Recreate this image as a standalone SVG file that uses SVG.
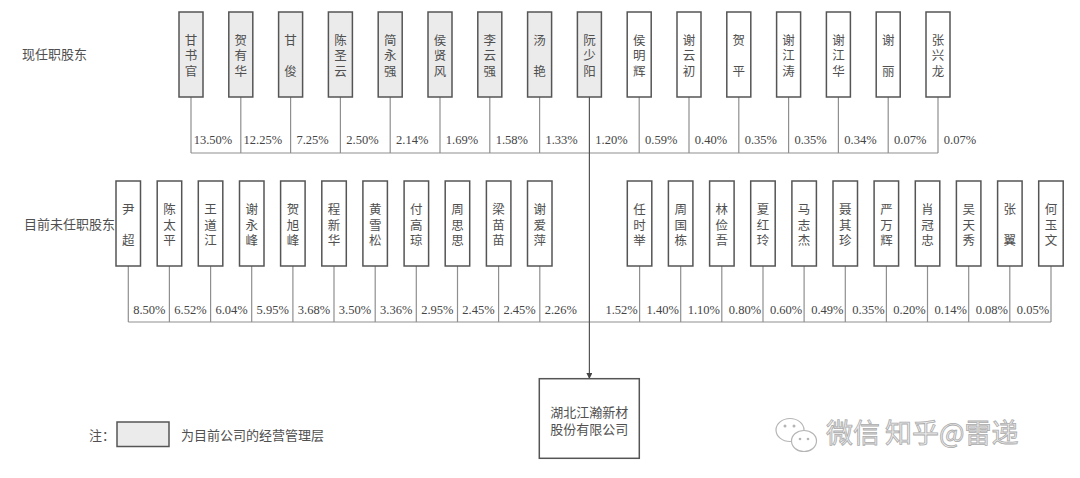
<svg xmlns="http://www.w3.org/2000/svg" width="1080" height="478" viewBox="0 0 1080 478">
<style>
.bx{stroke:#555;stroke-width:1.5;fill:#fff}
.g{fill:#ebebeb}
.nm{font-family:"Liberation Serif","Noto Sans CJK SC","Noto Sans CJK JP",sans-serif;font-size:12.5px;fill:#505050;text-anchor:middle}
.pc{font-family:"Liberation Serif","Times New Roman",serif;font-size:12.5px;fill:#444;text-anchor:middle}
.lb{font-family:"Noto Sans CJK SC","Noto Sans CJK JP",sans-serif;font-size:13px;fill:#505050}
.ln{stroke:#8f8f8f;stroke-width:1.2;fill:none}
.wm{font-family:"Noto Sans CJK SC","Noto Sans CJK JP",sans-serif;font-size:27px;fill:#ececec;stroke:#ababab;stroke-width:0.8}
</style>
<defs>
<marker id="arr" markerWidth="6" markerHeight="6" refX="5" refY="3" orient="auto" markerUnits="userSpaceOnUse"><path d="M0,0 L6,3 L0,6 z" fill="#444"/></marker>
</defs>
<rect width="1080" height="478" fill="#fff"/>
<text class="lb" x="22" y="59">现任职股东</text>
<text class="lb" x="24" y="229">目前未任职股东</text>

<g id="connectors">
<path class="ln" d="M191,97V153M240.8,97V153M290.6,97V153M340.4,97V153M390.2,97V153M440,97V153M489.8,97V153M539.6,97V153M639.2,97V153M689,97V153M738.8,97V153M788.6,97V153M838.4,97V153M888.2,97V153M938,97V153M191,153H938"/>
<path class="ln" d="M128.3,266V322M169.4,266V322M210.6,266V322M251.7,266V322M292.9,266V322M334,266V322M375.2,266V322M416.3,266V322M457.5,266V322M498.6,266V322M539.8,266V322M639.6,266V322M680.7,266V322M721.8,266V322M763,266V322M804.1,266V322M845.3,266V322M886.4,266V322M927.5,266V322M968.7,266V322M1009.8,266V322M1051,266V322M128.3,322H1051"/>
<path d="M589.4,97V378" stroke="#555" stroke-width="1.2" fill="none" marker-end="url(#arr)"/>
</g>

<g id="pct-top">
<text class="pc" x="213" y="144">13.50%</text>
<text class="pc" x="262.8" y="144">12.25%</text>
<text class="pc" x="312.6" y="144">7.25%</text>
<text class="pc" x="362.4" y="144">2.50%</text>
<text class="pc" x="412.2" y="144">2.14%</text>
<text class="pc" x="462" y="144">1.69%</text>
<text class="pc" x="511.8" y="144">1.58%</text>
<text class="pc" x="561.6" y="144">1.33%</text>
<text class="pc" x="611.4" y="144">1.20%</text>
<text class="pc" x="661.2" y="144">0.59%</text>
<text class="pc" x="711" y="144">0.40%</text>
<text class="pc" x="760.8" y="144">0.35%</text>
<text class="pc" x="810.6" y="144">0.35%</text>
<text class="pc" x="860.4" y="144">0.34%</text>
<text class="pc" x="910.2" y="144">0.07%</text>
<text class="pc" x="960" y="144">0.07%</text>
</g>
<g id="pct-bottom">
<text class="pc" x="149.3" y="314">8.50%</text>
<text class="pc" x="190.4" y="314">6.52%</text>
<text class="pc" x="231.6" y="314">6.04%</text>
<text class="pc" x="272.7" y="314">5.95%</text>
<text class="pc" x="313.9" y="314">3.68%</text>
<text class="pc" x="355" y="314">3.50%</text>
<text class="pc" x="396.2" y="314">3.36%</text>
<text class="pc" x="437.3" y="314">2.95%</text>
<text class="pc" x="478.5" y="314">2.45%</text>
<text class="pc" x="519.6" y="314">2.45%</text>
<text class="pc" x="560.8" y="314">2.26%</text>
<text class="pc" x="621.6" y="314">1.52%</text>
<text class="pc" x="662.7" y="314">1.40%</text>
<text class="pc" x="703.8" y="314">1.10%</text>
<text class="pc" x="745" y="314">0.80%</text>
<text class="pc" x="786.1" y="314">0.60%</text>
<text class="pc" x="827.3" y="314">0.49%</text>
<text class="pc" x="868.4" y="314">0.35%</text>
<text class="pc" x="909.5" y="314">0.20%</text>
<text class="pc" x="950.7" y="314">0.14%</text>
<text class="pc" x="991.8" y="314">0.08%</text>
<text class="pc" x="1033" y="314">0.05%</text>
</g>

<g id="n-t1"><rect class="bx g" x="179" y="12" width="24" height="85"/><text class="nm"><tspan x="191" y="44.5">甘</tspan><tspan x="191" y="59.8">书</tspan><tspan x="191" y="75.5">官</tspan></text></g>
<g id="n-t2"><rect class="bx g" x="228.8" y="12" width="24" height="85"/><text class="nm"><tspan x="240.8" y="44.5">贺</tspan><tspan x="240.8" y="59.8">有</tspan><tspan x="240.8" y="75.5">华</tspan></text></g>
<g id="n-t3"><rect class="bx g" x="278.6" y="12" width="24" height="85"/><text class="nm"><tspan x="290.6" y="44.5">甘</tspan><tspan x="290.6" y="75.5">俊</tspan></text></g>
<g id="n-t4"><rect class="bx g" x="328.4" y="12" width="24" height="85"/><text class="nm"><tspan x="340.4" y="44.5">陈</tspan><tspan x="340.4" y="59.8">圣</tspan><tspan x="340.4" y="75.5">云</tspan></text></g>
<g id="n-t5"><rect class="bx g" x="378.2" y="12" width="24" height="85"/><text class="nm"><tspan x="390.2" y="44.5">简</tspan><tspan x="390.2" y="59.8">永</tspan><tspan x="390.2" y="75.5">强</tspan></text></g>
<g id="n-t6"><rect class="bx g" x="428" y="12" width="24" height="85"/><text class="nm"><tspan x="440" y="44.5">侯</tspan><tspan x="440" y="59.8">贤</tspan><tspan x="440" y="75.5">风</tspan></text></g>
<g id="n-t7"><rect class="bx g" x="477.8" y="12" width="24" height="85"/><text class="nm"><tspan x="489.8" y="44.5">李</tspan><tspan x="489.8" y="59.8">云</tspan><tspan x="489.8" y="75.5">强</tspan></text></g>
<g id="n-t8"><rect class="bx g" x="527.6" y="12" width="24" height="85"/><text class="nm"><tspan x="539.6" y="44.5">汤</tspan><tspan x="539.6" y="75.5">艳</tspan></text></g>
<g id="n-t9"><rect class="bx g" x="577.4" y="12" width="24" height="85"/><text class="nm"><tspan x="589.4" y="44.5">阮</tspan><tspan x="589.4" y="59.8">少</tspan><tspan x="589.4" y="75.5">阳</tspan></text></g>
<g id="n-t10"><rect class="bx" x="627.2" y="12" width="24" height="85"/><text class="nm"><tspan x="639.2" y="44.5">侯</tspan><tspan x="639.2" y="59.8">明</tspan><tspan x="639.2" y="75.5">辉</tspan></text></g>
<g id="n-t11"><rect class="bx" x="677" y="12" width="24" height="85"/><text class="nm"><tspan x="689" y="44.5">谢</tspan><tspan x="689" y="59.8">云</tspan><tspan x="689" y="75.5">初</tspan></text></g>
<g id="n-t12"><rect class="bx" x="726.8" y="12" width="24" height="85"/><text class="nm"><tspan x="738.8" y="44.5">贺</tspan><tspan x="738.8" y="75.5">平</tspan></text></g>
<g id="n-t13"><rect class="bx" x="776.6" y="12" width="24" height="85"/><text class="nm"><tspan x="788.6" y="44.5">谢</tspan><tspan x="788.6" y="59.8">江</tspan><tspan x="788.6" y="75.5">涛</tspan></text></g>
<g id="n-t14"><rect class="bx" x="826.4" y="12" width="24" height="85"/><text class="nm"><tspan x="838.4" y="44.5">谢</tspan><tspan x="838.4" y="59.8">江</tspan><tspan x="838.4" y="75.5">华</tspan></text></g>
<g id="n-t15"><rect class="bx" x="876.2" y="12" width="24" height="85"/><text class="nm"><tspan x="888.2" y="44.5">谢</tspan><tspan x="888.2" y="75.5">丽</tspan></text></g>
<g id="n-t16"><rect class="bx" x="926" y="12" width="24" height="85"/><text class="nm"><tspan x="938" y="44.5">张</tspan><tspan x="938" y="59.8">兴</tspan><tspan x="938" y="75.5">龙</tspan></text></g>

<g id="n-b1"><rect class="bx" x="116" y="181" width="24.5" height="85"/><text class="nm"><tspan x="128.3" y="214.3">尹</tspan><tspan x="128.3" y="244.8">超</tspan></text></g>
<g id="n-b2"><rect class="bx" x="157.2" y="181" width="24.5" height="85"/><text class="nm"><tspan x="169.4" y="214.3">陈</tspan><tspan x="169.4" y="229.6">太</tspan><tspan x="169.4" y="244.8">平</tspan></text></g>
<g id="n-b3"><rect class="bx" x="198.3" y="181" width="24.5" height="85"/><text class="nm"><tspan x="210.6" y="214.3">王</tspan><tspan x="210.6" y="229.6">道</tspan><tspan x="210.6" y="244.8">江</tspan></text></g>
<g id="n-b4"><rect class="bx" x="239.5" y="181" width="24.5" height="85"/><text class="nm"><tspan x="251.7" y="214.3">谢</tspan><tspan x="251.7" y="229.6">永</tspan><tspan x="251.7" y="244.8">峰</tspan></text></g>
<g id="n-b5"><rect class="bx" x="280.6" y="181" width="24.5" height="85"/><text class="nm"><tspan x="292.9" y="214.3">贺</tspan><tspan x="292.9" y="229.6">旭</tspan><tspan x="292.9" y="244.8">峰</tspan></text></g>
<g id="n-b6"><rect class="bx" x="321.8" y="181" width="24.5" height="85"/><text class="nm"><tspan x="334" y="214.3">程</tspan><tspan x="334" y="229.6">新</tspan><tspan x="334" y="244.8">华</tspan></text></g>
<g id="n-b7"><rect class="bx" x="362.9" y="181" width="24.5" height="85"/><text class="nm"><tspan x="375.2" y="214.3">黄</tspan><tspan x="375.2" y="229.6">雪</tspan><tspan x="375.2" y="244.8">松</tspan></text></g>
<g id="n-b8"><rect class="bx" x="404.1" y="181" width="24.5" height="85"/><text class="nm"><tspan x="416.3" y="214.3">付</tspan><tspan x="416.3" y="229.6">高</tspan><tspan x="416.3" y="244.8">琼</tspan></text></g>
<g id="n-b9"><rect class="bx" x="445.2" y="181" width="24.5" height="85"/><text class="nm"><tspan x="457.5" y="214.3">周</tspan><tspan x="457.5" y="229.6">思</tspan><tspan x="457.5" y="244.8">思</tspan></text></g>
<g id="n-b10"><rect class="bx" x="486.4" y="181" width="24.5" height="85"/><text class="nm"><tspan x="498.6" y="214.3">梁</tspan><tspan x="498.6" y="229.6">苗</tspan><tspan x="498.6" y="244.8">苗</tspan></text></g>
<g id="n-b11"><rect class="bx" x="527.5" y="181" width="24.5" height="85"/><text class="nm"><tspan x="539.8" y="214.3">谢</tspan><tspan x="539.8" y="229.6">爱</tspan><tspan x="539.8" y="244.8">萍</tspan></text></g>

<g id="n-b12"><rect class="bx" x="627.3" y="181" width="24.5" height="85"/><text class="nm"><tspan x="639.6" y="214.3">任</tspan><tspan x="639.6" y="229.6">时</tspan><tspan x="639.6" y="244.8">举</tspan></text></g>
<g id="n-b13"><rect class="bx" x="668.4" y="181" width="24.5" height="85"/><text class="nm"><tspan x="680.7" y="214.3">周</tspan><tspan x="680.7" y="229.6">国</tspan><tspan x="680.7" y="244.8">栋</tspan></text></g>
<g id="n-b14"><rect class="bx" x="709.6" y="181" width="24.5" height="85"/><text class="nm"><tspan x="721.8" y="214.3">林</tspan><tspan x="721.8" y="229.6">俭</tspan><tspan x="721.8" y="244.8">吾</tspan></text></g>
<g id="n-b15"><rect class="bx" x="750.7" y="181" width="24.5" height="85"/><text class="nm"><tspan x="763" y="214.3">夏</tspan><tspan x="763" y="229.6">红</tspan><tspan x="763" y="244.8">玲</tspan></text></g>
<g id="n-b16"><rect class="bx" x="791.9" y="181" width="24.5" height="85"/><text class="nm"><tspan x="804.1" y="214.3">马</tspan><tspan x="804.1" y="229.6">志</tspan><tspan x="804.1" y="244.8">杰</tspan></text></g>
<g id="n-b17"><rect class="bx" x="833" y="181" width="24.5" height="85"/><text class="nm"><tspan x="845.3" y="214.3">聂</tspan><tspan x="845.3" y="229.6">其</tspan><tspan x="845.3" y="244.8">珍</tspan></text></g>
<g id="n-b18"><rect class="bx" x="874.1" y="181" width="24.5" height="85"/><text class="nm"><tspan x="886.4" y="214.3">严</tspan><tspan x="886.4" y="229.6">万</tspan><tspan x="886.4" y="244.8">辉</tspan></text></g>
<g id="n-b19"><rect class="bx" x="915.3" y="181" width="24.5" height="85"/><text class="nm"><tspan x="927.5" y="214.3">肖</tspan><tspan x="927.5" y="229.6">冠</tspan><tspan x="927.5" y="244.8">忠</tspan></text></g>
<g id="n-b20"><rect class="bx" x="956.4" y="181" width="24.5" height="85"/><text class="nm"><tspan x="968.7" y="214.3">吴</tspan><tspan x="968.7" y="229.6">天</tspan><tspan x="968.7" y="244.8">秀</tspan></text></g>
<g id="n-b21"><rect class="bx" x="997.6" y="181" width="24.5" height="85"/><text class="nm"><tspan x="1009.8" y="214.3">张</tspan><tspan x="1009.8" y="244.8">翼</tspan></text></g>
<g id="n-b22"><rect class="bx" x="1038.7" y="181" width="24.5" height="85"/><text class="nm"><tspan x="1051" y="214.3">何</tspan><tspan x="1051" y="229.6">玉</tspan><tspan x="1051" y="244.8">文</tspan></text></g>

<g id="n-company"><rect class="bx" x="539.3" y="378.7" width="100" height="79.6"/><text class="lb" text-anchor="middle"><tspan x="589.3" y="417">湖北江瀚新材</tspan><tspan x="589.3" y="434">股份有限公司</tspan></text></g>

<g id="legend">
<text class="lb" x="89" y="440">注：</text>
<rect class="bx g" x="117" y="422" width="52" height="24.5"/>
<text class="lb" x="181" y="440">为目前公司的经营管理层</text>
</g>

<g id="watermark">
<ellipse cx="790" cy="430" rx="14" ry="11.5" fill="none" stroke="#b5b5b5" stroke-width="1.2"/>
<ellipse cx="804" cy="441" rx="12.5" ry="10.5" fill="#fff" stroke="#b5b5b5" stroke-width="1.2"/>
<circle cx="785" cy="426" r="1.5" fill="#b5b5b5"/><circle cx="794" cy="426" r="1.5" fill="#b5b5b5"/>
<circle cx="800" cy="439" r="1.3" fill="#b5b5b5"/><circle cx="808" cy="439" r="1.3" fill="#b5b5b5"/>
<text class="wm" x="826" y="443">微信</text>
<text class="wm" x="885" y="443">知乎@雷递</text>
</g>
</svg>
